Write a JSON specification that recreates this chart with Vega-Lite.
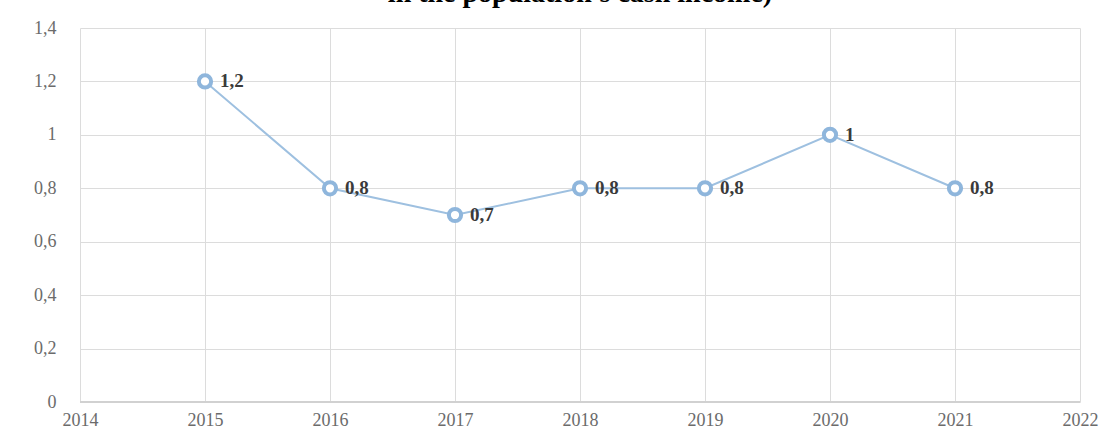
{
  "$schema": "https://vega.github.io/schema/vega-lite/v6.json",
  "width": 1000,
  "height": 374,
  "autosize": {"type": "none"},
  "padding": {"left": 80, "top": 28, "right": 38, "bottom": 34},
  "background": "white",
  "config": {
    "locale": {"number": {"decimal": ",", "thousands": " ", "grouping": [3], "currency": ["", ""]}},
    "view": {"stroke": null},
    "title": {"font": "Liberation Serif", "fontWeight": "bold"},
    "axis": {
      "labelFont": "Liberation Serif",
      "labelFontSize": 18,
      "labelColor": "#6b6b6b",
      "gridColor": "#dcdcdc",
      "gridWidth": 1,
      "ticks": false,
      "domain": false,
      "title": null
    }
  },
  "title": {
    "text": "in the population's cash income)",
    "font": "Liberation Serif",
    "fontSize": 28,
    "fontWeight": "bold",
    "color": "#000000",
    "anchor": "middle",
    "baseline": "alphabetic",
    "offset": 0,
    "dy": 11
  },
  "data": {
    "values": [
      {"year": 2015, "value": 1.2},
      {"year": 2016, "value": 0.8},
      {"year": 2017, "value": 0.7},
      {"year": 2018, "value": 0.8},
      {"year": 2019, "value": 0.8},
      {"year": 2020, "value": 1.0},
      {"year": 2021, "value": 0.8}
    ]
  },
  "encoding": {
    "x": {
      "field": "year",
      "type": "quantitative",
      "scale": {"domain": [2014, 2022], "nice": false, "zero": false},
      "axis": {"values": [2014, 2015, 2016, 2017, 2018, 2019, 2020, 2021, 2022], "format": "d", "labelPadding": 9, "labelFlush": false}
    },
    "y": {
      "field": "value",
      "type": "quantitative",
      "scale": {"domain": [0, 1.4], "nice": false},
      "axis": {"values": [0, 0.2, 0.4, 0.6, 0.8, 1, 1.2, 1.4], "format": ".1~f", "labelPadding": 24}
    }
  },
  "layer": [
    {
      "mark": {"type": "rule", "color": "#d0d0d0", "strokeWidth": 1.5},
      "encoding": {"y": {"datum": 0}, "x": null}
    },
    {
      "mark": {"type": "line", "color": "#9ec0e0", "strokeWidth": 2}
    },
    {
      "mark": {"type": "point", "shape": "circle", "size": 150, "filled": false, "fill": "white", "fillOpacity": 1, "stroke": "#8fb6dc", "strokeWidth": 4}
    },
    {
      "mark": {"type": "text", "align": "left", "dx": 15, "font": "Liberation Serif", "fontSize": 19, "fontWeight": "bold", "color": "#3a3a3a"},
      "encoding": {"text": {"field": "value", "type": "quantitative", "format": ".1~f"}}
    }
  ]
}
